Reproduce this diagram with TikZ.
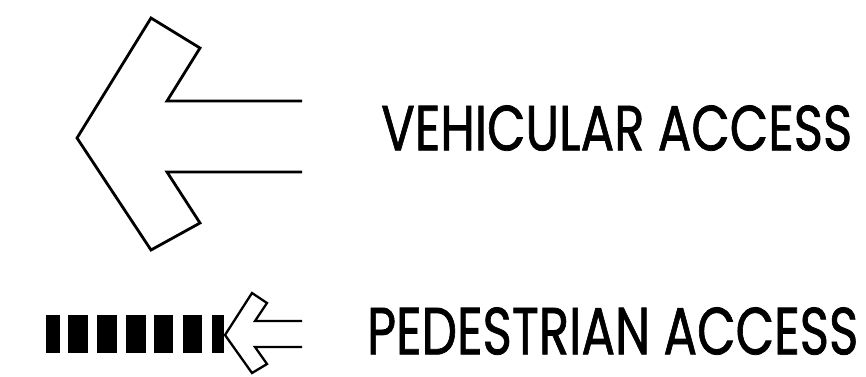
\documentclass[tikz,border=0pt]{standalone}
\usepackage{fontspec}
\setmainfont{Poppins}[FakeBold=1.2]
\usepackage{graphicx}
\begin{document}
\begin{tikzpicture}[x=1pt,y=-1pt,
  outline/.style={draw=black,line width=2.8pt,line join=miter},
  block/.style={fill=black},
  label/.style={anchor=south west,inner sep=0pt,text=black}]
\useasboundingbox (0,0) rectangle (866,376);
% vehicular arrow
\draw[outline] (302,101) -- (167,101) -- (200,48) -- (151,18) -- (77,138)
  -- (151,250) -- (200,223) -- (167,172) -- (302,172);
% pedestrian blocks
\foreach \a/\b in {46/60,68/88,97/117,126/146,154/173,183/202,212/224}
  \fill[block] (\a,315) rectangle (\b,353);
% pedestrian arrow
\draw[outline,line width=2.3pt] (302,321) -- (255,321) -- (267,303) -- (252,293) -- (225,335)
  -- (252,373) -- (267,364) -- (255,347) -- (302,347);
\node[label] (veh) at (381,151) {\resizebox{471pt}{45pt}{VEHICULAR ACCESS}};
\node[label] (ped) at (367,355) {\resizebox{491pt}{47pt}{PEDESTRIAN ACCESS}};
\end{tikzpicture}
\end{document}
